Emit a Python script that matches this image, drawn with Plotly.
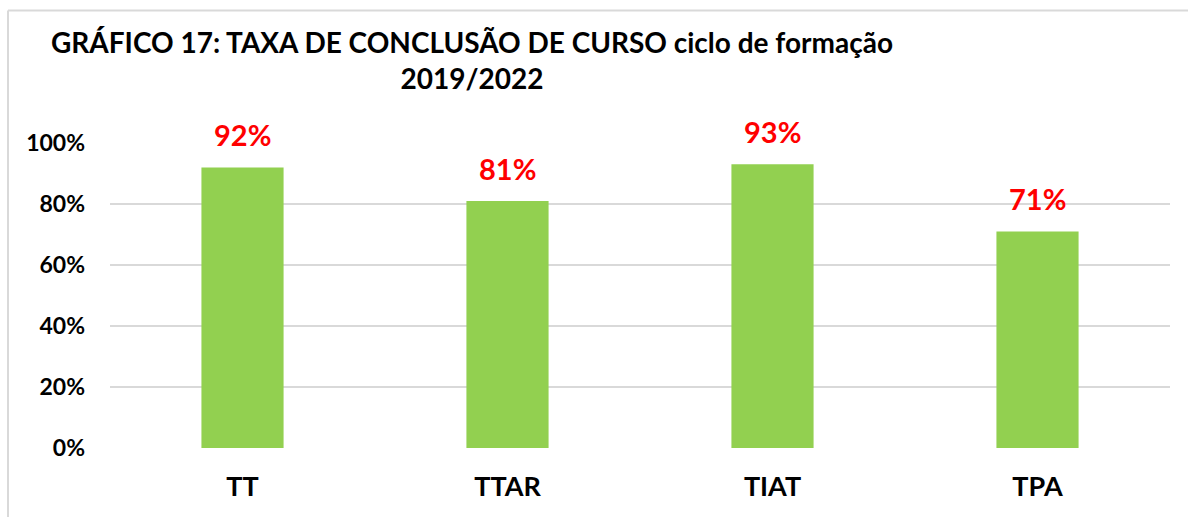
import plotly.graph_objects as go

categories = ["TT", "TTAR", "TIAT", "TPA"]
values = [0.92, 0.81, 0.93, 0.71]
tick_vals = [0, 0.2, 0.4, 0.6, 0.8, 1.0]
tick_text = ["0%", "20%", "40%", "60%", "80%", "100%"]
title_text = "GRÁFICO 17: TAXA DE CONCLUSÃO DE CURSO ciclo de formação<br>2019/2022"

FONT = "Lato"
W, H = 1188, 517
L, R, T, B = 110, 18, 143, 69
pw, ph = W - L - R, H - T - B

fig = go.Figure()
fig.add_trace(go.Bar(
    x=categories, y=values, width=0.31,
    marker=dict(color="#92d050", line=dict(width=0)),
    hoverinfo="skip",
))

for c, v in zip(categories, values):
    fig.add_annotation(
        x=c, y=v, text=f"{round(v*100)}%", showarrow=False,
        yanchor="bottom", yshift=13,
        font=dict(family=FONT, size=29, color="#ff0000", weight="bold"),
    )

def px_x(p):
    return (p - L) / pw

def px_y(p):
    return 1 - (p - T) / ph

border = dict(color="#d9d9d9", width=2)
fig.add_shape(type="line", xref="paper", yref="paper",
              x0=px_x(8), x1=px_x(8), y0=px_y(10.5), y1=px_y(520), line=border)
fig.add_shape(type="line", xref="paper", yref="paper",
              x0=px_x(8), x1=px_x(1190), y0=px_y(10.5), y1=px_y(10.5), line=border)

fig.update_layout(
    width=W, height=H,
    margin=dict(l=L, r=R, t=T, b=B),
    paper_bgcolor="white", plot_bgcolor="white",
    showlegend=False,
    bargap=0.69,
    title=dict(
        text=title_text, xref="container", yref="container",
        x=472 / W, xanchor="center", y=1 - 53 / H, yanchor="top",
        font=dict(family=FONT, size=28, color="#000000", weight="bold"),
    ),
    xaxis=dict(
        showgrid=False, showline=False, zeroline=False,
        tickfont=dict(family=FONT, size=27, color="#000000", weight="bold"),
        ticklabelstandoff=20,
    ),
    yaxis=dict(
        range=[0, 1], tickvals=tick_vals, ticktext=tick_text,
        showgrid=True, gridcolor="#d9d9d9", gridwidth=2,
        zeroline=False, showline=False,
        tickfont=dict(family=FONT, size=23, color="#000000", weight="bold"),
        ticklabelstandoff=24,
    ),
)

fig.write_html(
    "out.html",
    config={"displayModeBar": False},
    post_script="document.body.style.margin='0';document.body.style.overflow='hidden';",
)
